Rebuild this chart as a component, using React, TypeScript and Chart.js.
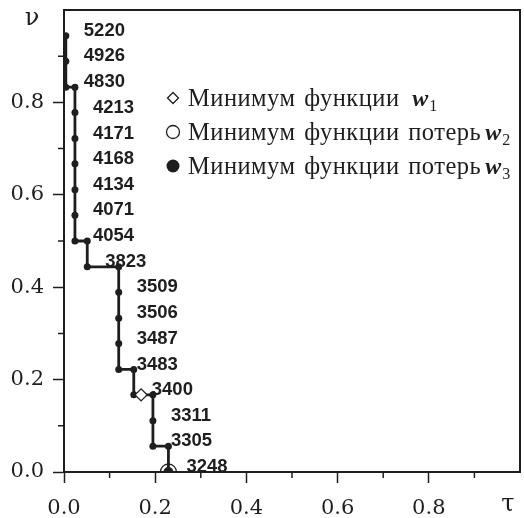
import React, { useEffect, useRef } from 'react';
import { Chart, registerables } from 'chart.js';
Chart.register(...registerables);

// Step path of the minimum of loss function w3 (tau, nu), with cost labels
const tauPath = [0.004, 0.004, 0.004, 0.024, 0.024, 0.024, 0.024, 0.024, 0.024, 0.024, 0.051, 0.051, 0.12, 0.12, 0.12, 0.12, 0.12, 0.153, 0.153, 0.195, 0.195, 0.195, 0.229, 0.229];
const nuPath = [0.944, 0.889, 0.833, 0.833, 0.778, 0.722, 0.667, 0.611, 0.556, 0.5, 0.5, 0.444, 0.444, 0.389, 0.333, 0.278, 0.222, 0.222, 0.167, 0.167, 0.111, 0.056, 0.056, 0];
const costLabels = ['5220', '4926', '4830', '', '4213', '4171', '4168', '4134', '4071', '4054', '', '3823', '', '3509', '3506', '3487', '3483', '', '3400', '', '3311', '3305', '', '3248'];

// Minimum of function w1 (diamond) and loss function w2 (open circle)
const tauW1 = [0.169];
const nuW1 = [0.167];
const tauW2 = [0.229];
const nuW2 = [0];

const legendTexts = ['Минимум функции ', 'Минимум функции потерь', 'Минимум функции потерь'];
const legendSubs = ['1', '2', '3'];

const xTicks = [0, 0.2, 0.4, 0.6, 0.8];
const yTicks = [0, 0.2, 0.4, 0.6, 0.8];
const minorTicks = [0.1, 0.3, 0.5, 0.7, 0.9];

const INK = '#1e1e1e';
const SERIF = '"DejaVu Serif", serif';
const LSERIF = '"Liberation Serif", "Times New Roman", serif';

const decorPlugin = {
  id: 'decor',
  beforeDatasetsDraw(chart: any) {
    const { ctx, chartArea } = chart;
    ctx.save();
    ctx.strokeStyle = INK;
    ctx.lineWidth = 2;
    ctx.strokeRect(chartArea.left, chartArea.top, chartArea.right - chartArea.left, chartArea.bottom - chartArea.top);
    // minor ticks
    const xs = chart.scales.x;
    const ys = chart.scales.y;
    ctx.lineWidth = 1.5;
    ctx.beginPath();
    minorTicks.forEach((v) => {
      const px = xs.getPixelForValue(v);
      ctx.moveTo(px, chartArea.bottom);
      ctx.lineTo(px, chartArea.bottom + 6);
      const py = ys.getPixelForValue(v);
      ctx.moveTo(chartArea.left, py);
      ctx.lineTo(chartArea.left - 6, py);
    });
    ctx.stroke();
    ctx.restore();
  },
  afterDraw(chart: any) {
    const { ctx, chartArea } = chart;
    ctx.save();
    // axis symbols
    ctx.fillStyle = INK;
    ctx.font = `24px ${SERIF}`;
    ctx.textAlign = 'center';
    ctx.textBaseline = 'middle';
    ctx.fillText('ν', 32, 19);
    ctx.fillText('τ', chartArea.right - 12, 505);

    // data labels
    const meta = chart.getDatasetMeta(2);
    ctx.font = 'bold 18.5px "Liberation Sans", Arial, sans-serif';
    ctx.textAlign = 'left';
    ctx.textBaseline = 'middle';
    meta.data.forEach((el: any, i: number) => {
      const t = costLabels[i];
      if (t) ctx.fillText(t, el.x + 18, el.y - 5);
    });

    // legend
    const lx = 173;
    const ly0 = 98;
    const step = 34;
    for (let i = 0; i < 3; i++) {
      const y = ly0 + i * step;
      ctx.strokeStyle = INK;
      ctx.fillStyle = INK;
      ctx.lineWidth = 1.3;
      ctx.beginPath();
      if (i === 0) {
        const r = 5.5;
        ctx.moveTo(lx, y - r);
        ctx.lineTo(lx + r, y);
        ctx.lineTo(lx, y + r);
        ctx.lineTo(lx - r, y);
        ctx.closePath();
        ctx.stroke();
      } else if (i === 1) {
        ctx.arc(lx, y, 6.5, 0, Math.PI * 2);
        ctx.stroke();
      } else {
        ctx.arc(lx, y, 6.5, 0, Math.PI * 2);
        ctx.fill();
      }
      ctx.font = `24.5px ${LSERIF}`;
      (ctx as any).letterSpacing = '0.5px';
      (ctx as any).wordSpacing = '2px';
      ctx.textAlign = 'left';
      ctx.textBaseline = 'alphabetic';
      const text = legendTexts[i];
      const tx = 188;
      const base = y + 8;
      ctx.fillText(text, tx, base);
      let wx = tx + ctx.measureText(text).width + (i === 0 ? 4 : 4);
      (ctx as any).letterSpacing = '0px';
      (ctx as any).wordSpacing = '0px';
      ctx.font = `italic bold 24px ${LSERIF}`;
      ctx.fillText('w', wx, base);
      wx += ctx.measureText('w').width + 1;
      ctx.font = `16px ${LSERIF}`;
      ctx.fillText(legendSubs[i], wx, base + 5);
    }
    ctx.restore();
  },
};

export default function App() {
  const ref = useRef<HTMLCanvasElement>(null);
  useEffect(() => {
    document.body.style.margin = '0';
    const pathData = tauPath.map((t, i) => ({ x: t, y: nuPath[i] }));
    const w1Data = tauW1.map((t, i) => ({ x: t, y: nuW1[i] }));
    const w2Data = tauW2.map((t, i) => ({ x: t, y: nuW2[i] }));
    const tickFont = { family: SERIF, size: 21 };
    const chart = new Chart(ref.current!, {
      type: 'scatter',
      data: {
        datasets: [
          {
            label: 'Минимум функции w1',
            data: w1Data,
            pointStyle: 'rectRot',
            pointRadius: 6,
            backgroundColor: '#ffffff',
            borderColor: INK,
            borderWidth: 1.3,
            order: 1,
          },
          {
            label: 'Минимум функции потерь w2',
            data: w2Data,
            pointStyle: 'circle',
            pointRadius: 8,
            backgroundColor: 'rgba(0,0,0,0)',
            borderColor: INK,
            borderWidth: 1.3,
            order: 0,
          },
          {
            label: 'Минимум функции потерь w3',
            data: pathData,
            showLine: true,
            borderColor: INK,
            borderWidth: 2.8,
            backgroundColor: INK,
            pointBackgroundColor: INK,
            pointBorderColor: INK,
            pointBorderWidth: 0,
            pointRadius: pathData.map((_, i) => (i === pathData.length - 1 ? 5 : 3.5)),
            order: 2,
          } as any,
        ],
      },
      options: {
        animation: false,
        responsive: false,
        maintainAspectRatio: false,
        layout: { autoPadding: false, padding: { top: 10, right: 4, left: 0, bottom: 0 } },
        plugins: { legend: { display: false }, tooltip: { enabled: false } },
        scales: {
          x: {
            type: 'linear',
            min: 0,
            max: 1,
            afterFit: (s: any) => {
              s.height = 46;
              s.paddingLeft = 0;
              s.paddingRight = 0;
            },
            afterBuildTicks: (s: any) => {
              s.ticks = xTicks.map((v) => ({ value: v }));
            },
            ticks: {
              callback: (v: any) => Number(v).toFixed(1),
              font: tickFont,
              color: INK,
              padding: 13,
              maxRotation: 0,
              autoSkip: false,
            },
            grid: { drawOnChartArea: false, tickLength: 11, tickColor: INK, tickWidth: 1.5 },
            border: { display: true, color: INK, width: 2 },
          },
          y: {
            type: 'linear',
            min: 0,
            max: 1,
            afterFit: (s: any) => {
              s.width = 64;
              s.paddingTop = 0;
              s.paddingBottom = 0;
            },
            afterBuildTicks: (s: any) => {
              s.ticks = yTicks.map((v) => ({ value: v }));
            },
            ticks: {
              callback: (v: any) => Number(v).toFixed(1),
              font: tickFont,
              color: INK,
              padding: 9,
              autoSkip: false,
            },
            grid: { drawOnChartArea: false, tickLength: 11, tickColor: INK, tickWidth: 1.5 },
            border: { display: true, color: INK, width: 2 },
          },
        },
      },
      plugins: [decorPlugin],
    });
    return () => chart.destroy();
  }, []);
  return (
    <div style={{ width: 524, height: 518, background: '#fff' }}>
      <canvas ref={ref} width={524} height={518} style={{ display: 'block' }} />
    </div>
  );
}
